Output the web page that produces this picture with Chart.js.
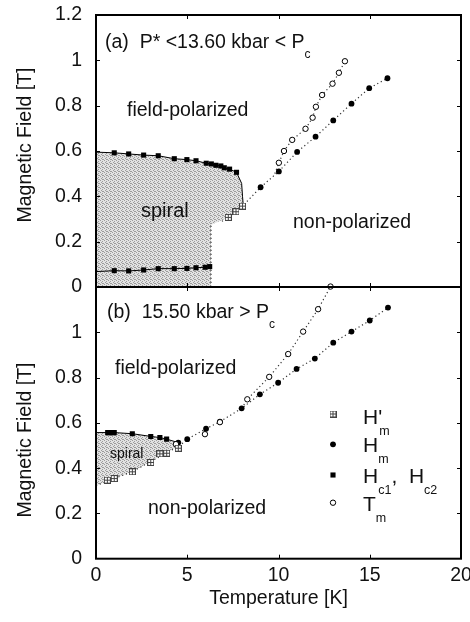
<!DOCTYPE html>
<html><head><meta charset="utf-8">
<script src="https://cdn.jsdelivr.net/npm/chart.js@4"></script>
<style>
html,body{margin:0;padding:0;background:#fff;}
#wrap{position:relative;width:470px;height:622px;overflow:hidden;font-family:"Liberation Sans",Arial,Helvetica,sans-serif;color:#111;}
canvas{position:absolute;left:0;}
#cA{top:0;}
#cB{top:280px;}
.t{position:absolute;white-space:pre;line-height:1;transform:translateY(-50%);font-size:19.5px;}
.sub{position:relative;font-size:12px;}
.yt{position:absolute;white-space:pre;font-size:19.5px;line-height:1;transform:translate(-50%,-50%) rotate(-90deg);}
.lg{font-size:21px;}
.lg .sub{font-size:12.5px;top:11px;}
</style></head>
<body>
<div id="wrap">
<canvas id="cA" width="470" height="300"></canvas>
<canvas id="cB" width="470" height="342"></canvas>
<div class="yt" style="left:25px;top:145px;">Magnetic Field [T]</div>
<div class="yt" style="left:25px;top:440px;">Magnetic Field [T]</div>
<div class="t" style="left:105px;top:42px;">(a)  P* &lt;13.60 kbar &lt; P<span class="sub" style="top:10px;">c</span></div>
<div class="t" style="left:127px;top:110px;">field-polarized</div>
<div class="t" style="left:141px;top:210px;font-size:20px;">spiral</div>
<div class="t" style="left:293px;top:222px;">non-polarized</div>
<div class="t" style="left:107px;top:312px;">(b)  15.50 kbar &gt; P<span class="sub" style="top:10px;">c</span></div>
<div class="t" style="left:115px;top:368px;">field-polarized</div>
<div class="t" style="left:110px;top:453px;font-size:14px;">spiral</div>
<div class="t" style="left:148px;top:508px;">non-polarized</div>
<div class="t lg" style="left:363px;top:416px;">H'<span class="sub" style="margin-left:-3px;">m</span></div>
<div class="t lg" style="left:363px;top:444px;">H<span class="sub">m</span></div>
<div class="t lg" style="left:363px;top:475px;">H<span class="sub">c1</span>,  H<span class="sub">c2</span></div>
<div class="t lg" style="left:363px;top:503px;">T<span class="sub">m</span></div>
</div>
<script>
// ---------- axis ticks ----------
const xTicks = [0, 5, 10, 15, 20];
const yTicks = [0, 0.2, 0.4, 0.6, 0.8, 1.0, 1.2];

// ---------- panel (a): 13.60 kbar ----------
const aHc2T = [1.00, 1.79, 2.61, 3.41, 4.29, 4.98, 5.48, 6.04, 6.32, 6.57, 6.84, 7.03, 7.32, 7.70];
const aHc2H = [0.592, 0.587, 0.582, 0.579, 0.566, 0.562, 0.557, 0.546, 0.543, 0.537, 0.534, 0.526, 0.520, 0.506];
const aHc1T = [1.00, 1.79, 2.61, 3.41, 4.29, 4.98, 5.48, 5.98, 6.23];
const aHc1H = [0.072, 0.071, 0.075, 0.081, 0.081, 0.082, 0.085, 0.087, 0.090];
const aHmpT = [7.25, 7.67, 8.03];
const aHmpH = [0.307, 0.332, 0.357];
const aHmT = [9.02, 10.02, 11.02, 12.03, 13.00, 14.00, 14.97, 15.97];
const aHmH = [0.440, 0.510, 0.596, 0.663, 0.735, 0.809, 0.877, 0.921];
const aTmT = [10.02, 10.30, 10.75, 11.48, 11.87, 12.05, 12.39, 12.96, 13.31, 13.64];
const aTmH = [0.548, 0.600, 0.649, 0.698, 0.747, 0.795, 0.847, 0.897, 0.945, 0.996];
// boundary lines (a)
const aUpperLineT = [0].concat(aHc2T, [7.98, 8.03, 8.07]);
const aUpperLineH = [0.595].concat(aHc2H, [0.457, 0.398, 0.360]);
const aLowerLineT = [0].concat(aHc1T);
const aLowerLineH = [0.068].concat(aHc1H);
const aHmGuideT = [6.9].concat(aHmpT, aHmT);
const aHmGuideH = [0.290].concat(aHmpH, aHmH);
const aTmGuideT = [9.8].concat(aTmT);
const aTmGuideH = [0.50].concat(aTmH);
const aEdgeT = [6.3, 6.3];
const aEdgeH = [0, 0.275];
const aSpiralT = [0].concat(aUpperLineT, [8.03, 7.67, 7.25, 6.3, 6.3]);
const aSpiralH = [0].concat(aUpperLineH, [0.357, 0.332, 0.307, 0.275, 0]);

// ---------- panel (b): 15.50 kbar ----------
const bHcT = [0.64, 0.82, 1.00, 1.99, 3.00, 3.50, 3.87];
const bHcH = [0.557, 0.557, 0.557, 0.552, 0.540, 0.535, 0.528];
const bHmpT = [0.62, 1.00, 1.99, 3.00, 3.50, 3.87, 4.51];
const bHmpH = [0.347, 0.354, 0.384, 0.425, 0.463, 0.466, 0.488];
const bHmT = [4.51, 5.00, 6.03, 6.79, 7.98, 8.98, 9.98, 10.99, 11.99, 13.00, 14.00, 15.00, 16.00];
const bHmH = [0.513, 0.528, 0.574, 0.605, 0.664, 0.726, 0.777, 0.838, 0.884, 0.954, 1.003, 1.052, 1.109];
const bTmT = [4.38, 5.97, 6.79, 8.29, 9.49, 10.53, 11.35, 12.17, 12.85];
const bTmH = [0.506, 0.550, 0.603, 0.704, 0.803, 0.904, 1.003, 1.102, 1.202];
// boundary lines (b)
const bUpperLineT = [0].concat(bHcT, [4.5]);
const bUpperLineH = [0.557].concat(bHcH, [0.513]);
const bLowGuideT = [0, 2.0, 4.6].concat(bHmT.slice(1));
const bLowGuideH = [0.323, 0.385, 0.500].concat(bHmH.slice(1));
const bTmGuideT = [7.98].concat(bTmT.slice(3));
const bTmGuideH = [0.664].concat(bTmH.slice(3));
const bSpiralT = bUpperLineT.concat([4.6, 2.0, 0]);
const bSpiralH = bUpperLineH.concat([0.500, 0.385, 0.323]);

// ---------- helpers ----------
const FONT = '"Liberation Sans", Arial, Helvetica, sans-serif';
const pts = (T, H) => T.map((t, i) => ({x: t, y: H[i]}));

function makePattern() {
  const c = document.createElement('canvas'); c.width = 4; c.height = 4;
  const g = c.getContext('2d');
  g.fillStyle = '#e2e2e2'; g.fillRect(0, 0, 4, 4);
  g.fillStyle = '#9c9c9c';
  [[0,0],[2,1],[1,2],[3,3],[2,3]].forEach(([x, y]) => g.fillRect(x, y, 1, 1));
  return g.createPattern(c, 'repeat');
}
function crossSquare() {
  const c = document.createElement('canvas'); c.width = 7; c.height = 7;
  const g = c.getContext('2d');
  g.fillStyle = '#fff'; g.fillRect(0, 0, 7, 7);
  g.strokeStyle = '#444'; g.lineWidth = 1;
  g.strokeRect(0.5, 0.5, 6, 6);
  g.beginPath(); g.moveTo(3.5, 0.5); g.lineTo(3.5, 6.5); g.moveTo(0.5, 3.5); g.lineTo(6.5, 3.5); g.stroke();
  return c;
}
const shade = makePattern();
const xsq = crossSquare();

const sty = {
  hmp: {pointStyle: xsq, pointRadius: 3.5},
  hm: {pointStyle: 'circle', pointRadius: 2.9, backgroundColor: '#000', borderColor: '#000', borderWidth: 0},
  hc: {pointStyle: 'rect', pointRadius: 3.6, backgroundColor: '#000', borderColor: '#000', borderWidth: 0},
  tm: {pointStyle: 'circle', pointRadius: 2.7, backgroundColor: '#fff', borderColor: '#000', borderWidth: 1}
};
function pointSet(T, H, s) {
  return Object.assign({data: pts(T, H), showLine: false, order: 1, clip: 6}, s);
}
function solidLine(T, H) {
  return {data: pts(T, H), showLine: true, pointRadius: 0, borderColor: '#000', borderWidth: 1, order: 2, fill: false};
}
function dotLine(T, H) {
  return {data: pts(T, H), showLine: true, pointRadius: 0, borderColor: '#333', borderWidth: 1.2, borderDash: [1.2, 2.8], order: 2, fill: false};
}
function region(T, H) {
  return {data: pts(T, H), showLine: true, pointRadius: 0, borderWidth: 0, borderColor: 'rgba(0,0,0,0)', backgroundColor: shade, fill: 'shape', order: 3};
}

const framePlugin = {
  id: 'frame',
  afterDatasetsDraw(chart) {
    const {ctx, chartArea: a, scales: {x, y}} = chart;
    ctx.save();
    ctx.strokeStyle = '#000';
    ctx.lineWidth = 1;
    ctx.beginPath();
    const tl = 4;
    xTicks.forEach(v => {
      if (v <= 0 || v >= 20) return;
      const p = Math.round(x.getPixelForValue(v)) + 0.5;
      ctx.moveTo(p, a.bottom); ctx.lineTo(p, a.bottom - tl);
      ctx.moveTo(p, a.top); ctx.lineTo(p, a.top + tl);
    });
    yTicks.forEach(v => {
      if (v <= 0 || v >= 1.2) return;
      const p = Math.round(y.getPixelForValue(v)) + 0.5;
      ctx.moveTo(a.left, p); ctx.lineTo(a.left + tl, p);
      ctx.moveTo(a.right, p); ctx.lineTo(a.right - tl, p);
    });
    ctx.stroke();
    ctx.lineWidth = 2;
    ctx.strokeRect(a.left, a.top, a.right - a.left, a.bottom - a.top);
    ctx.restore();
  }
};

const legendPlugin = {
  id: 'lgd',
  afterDraw(chart) {
    const ctx = chart.ctx;
    const lx = 333;
    const rows = [134, 164.3, 195, 222.7];
    ctx.save();
    ctx.drawImage(xsq, lx - 3.5, rows[0] - 3.5);
    ctx.fillStyle = '#000';
    ctx.beginPath(); ctx.arc(lx, rows[1], 2.9, 0, Math.PI * 2); ctx.fill();
    ctx.fillRect(lx - 2.55, rows[2] - 2.55, 5.1, 5.1);
    ctx.fillStyle = '#fff'; ctx.strokeStyle = '#000'; ctx.lineWidth = 1;
    ctx.beginPath(); ctx.arc(lx, rows[3], 2.7, 0, Math.PI * 2); ctx.fill(); ctx.stroke();
    ctx.restore();
  }
};

function yScale(hideTop) {
  return {
    type: 'linear', min: 0, max: 1.2,
    grid: {display: false, drawTicks: false}, border: {display: false},
    ticks: {
      stepSize: 0.2, padding: 14, color: '#111',
      font: {family: FONT, size: 19.5},
      callback: v => {
        const r = Math.round(v * 10) / 10;
        if (hideTop && r >= 1.2) return '';
        return String(r);
      }
    },
    afterFit(s) { s.width = 96; s.paddingTop = 0; s.paddingBottom = 0; }
  };
}

Chart.defaults.font.family = FONT;

new Chart(document.getElementById('cA'), {
  type: 'scatter',
  data: {datasets: [
    pointSet(aHmpT, aHmpH, sty.hmp),
    pointSet(aHmT, aHmH, sty.hm),
    pointSet(aHc2T, aHc2H, sty.hc),
    pointSet(aHc1T, aHc1H, sty.hc),
    pointSet(aTmT, aTmH, sty.tm),
    solidLine(aUpperLineT, aUpperLineH),
    solidLine(aLowerLineT, aLowerLineH),
    dotLine(aHmGuideT, aHmGuideH),
    dotLine(aTmGuideT, aTmGuideH),
    dotLine(aEdgeT, aEdgeH),
    region(aSpiralT, aSpiralH)
  ]},
  options: {
    responsive: false, animation: false,
    plugins: {legend: {display: false}, tooltip: {enabled: false}},
    layout: {padding: {top: 15, right: 9, bottom: 13, left: 0}},
    scales: {
      x: {type: 'linear', min: 0, max: 20, display: false, ticks: {stepSize: 5}},
      y: yScale(false)
    }
  },
  plugins: [framePlugin]
});

new Chart(document.getElementById('cB'), {
  type: 'scatter',
  data: {datasets: [
    pointSet(bHmpT, bHmpH, sty.hmp),
    pointSet(bHcT, bHcH, sty.hc),
    pointSet(bTmT, bTmH, sty.tm),
    pointSet(bHmT, bHmH, sty.hm),
    solidLine(bUpperLineT, bUpperLineH),
    dotLine(bLowGuideT, bLowGuideH),
    dotLine(bTmGuideT, bTmGuideH),
    region(bSpiralT, bSpiralH)
  ]},
  options: {
    responsive: false, animation: false,
    plugins: {legend: {display: false}, tooltip: {enabled: false}},
    layout: {padding: {top: 7, right: 9, bottom: 0, left: 0}},
    scales: {
      x: {
        type: 'linear', min: 0, max: 20,
        grid: {display: false, drawTicks: false}, border: {display: false},
        ticks: {stepSize: 5, padding: 5, color: '#111', font: {family: FONT, size: 19.5}},
        title: {display: true, text: 'Temperature [K]', color: '#111', font: {family: FONT, size: 19.5}, padding: {top: 0, bottom: 12}},
        afterFit(s) { s.height = 63.3; s.paddingLeft = 0; s.paddingRight = 0; }
      },
      y: yScale(true)
    }
  },
  plugins: [framePlugin, legendPlugin]
});
</script>
</body></html>
